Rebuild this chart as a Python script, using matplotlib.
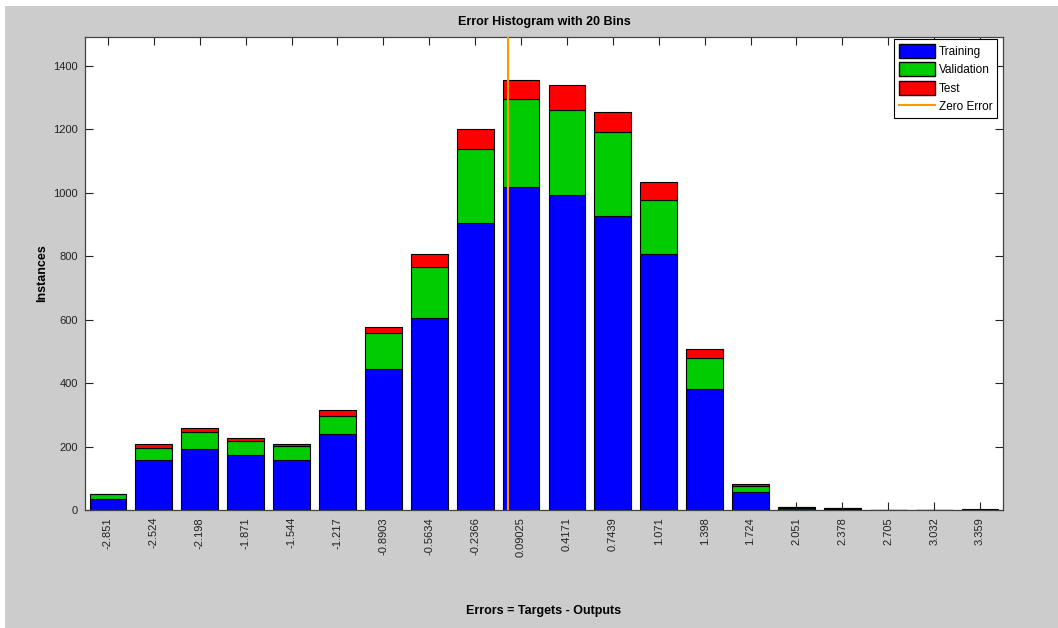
import numpy as np
import matplotlib.pyplot as plt
from matplotlib.patches import Rectangle, Patch
from matplotlib.lines import Line2D

plt.rcParams['font.family'] = ['Liberation Sans', 'DejaVu Sans']

# bin centres (tick labels) and counts per bin
bin_labels = ['-2.851', '-2.524', '-2.198', '-1.871', '-1.544', '-1.217', '-0.8903',
              '-0.5634', '-0.2366', '0.09025', '0.4171', '0.7439', '1.071', '1.398',
              '1.724', '2.051', '2.378', '2.705', '3.032', '3.359']
training = [36, 157, 191, 173, 158, 238, 443, 604, 904, 1017, 992, 925, 806, 382, 56, 7, 4, 0, 0, 1]
validation = [13, 39, 55, 43, 44, 57, 114, 162, 232, 277, 269, 266, 171, 98, 20, 1, 1, 0, 0, 0]
test = [1, 13, 12, 10, 7, 20, 20, 40, 64, 59, 77, 62, 56, 27, 6, 0, 1, 0, 0, 1]

centers = np.array([float(s) for s in bin_labels])
pos = np.arange(1, len(bin_labels) + 1)
step = (centers[-1] - centers[0]) / (len(centers) - 1)
zero_pos = 1 + (0 - centers[0]) / step

fig = plt.figure(figsize=(10.58, 6.28), dpi=100)
fig.patch.set_facecolor('white')
fig.patches.append(Rectangle((5 / 1058, 0), 1, 1 - 6 / 628, transform=fig.transFigure,
                             facecolor='#cccccc', edgecolor='none', zorder=-10))

ax = fig.add_axes([85 / 1058, 118 / 628, 918 / 1058, 473 / 628])
ax.set_facecolor('white')

tr = np.array(training)
va = np.array(validation)
te = np.array(test)
ax.bar(pos, tr, width=0.8, color='#0000ff', edgecolor='black', linewidth=0.8, zorder=2)
ax.bar(pos, va, width=0.8, bottom=tr, color='#00cc00', edgecolor='black', linewidth=0.8, zorder=2)
ax.bar(pos, te, width=0.8, bottom=tr + va, color='#ff0000', edgecolor='black', linewidth=0.8, zorder=2)
ax.axvline(zero_pos, color='#ff9900', linewidth=1.5, zorder=3)

ax.set_xlim(0.5, len(pos) + 0.5)
ax.set_ylim(0, 1490)
ax.set_xticks(pos)
ax.set_xticklabels(bin_labels, rotation=90)
ax.set_yticks(np.arange(0, 1401, 200))
ax.tick_params(direction='in', length=6, width=0.8, top=True, right=True,
               labelsize=8, colors='#222222', pad=5)
for sp in ax.spines.values():
    sp.set_color('#444444')
    sp.set_linewidth(0.9)

ax.set_title('Error Histogram with 20 Bins', fontsize=9, fontweight='bold', pad=9)
ax.set_ylabel('Instances', fontsize=9, fontweight='bold', labelpad=4)
fig.text(544 / 1058, 1 - 611 / 628, 'Errors = Targets - Outputs', fontsize=9,
         fontweight='bold', ha='center', va='center')

handles = [Patch(facecolor='#0000ff', edgecolor='black', label='Training'),
           Patch(facecolor='#00cc00', edgecolor='black', label='Validation'),
           Patch(facecolor='#ff0000', edgecolor='black', label='Test'),
           Line2D([0], [0], color='#ff9900', linewidth=1.5, label='Zero Error')]
leg = ax.legend(handles=handles, loc='upper right', bbox_to_anchor=(0.9935, 0.9958),
                borderaxespad=0, fontsize=8.5, handlelength=3.0, handleheight=1.45,
                handletextpad=0.35, labelspacing=0.38, borderpad=0.4,
                fancybox=False, framealpha=1)
leg.get_frame().set_edgecolor('black')
leg.get_frame().set_linewidth(0.8)

fig.savefig('out.png', dpi=100)
